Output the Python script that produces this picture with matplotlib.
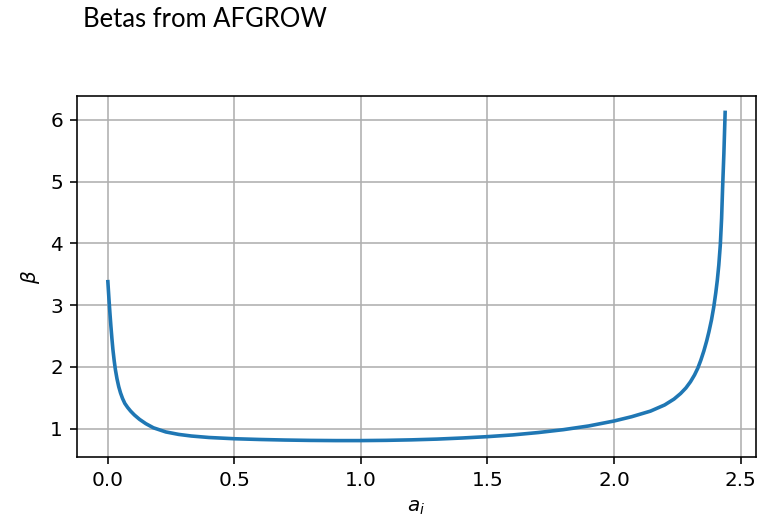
import matplotlib
matplotlib.use("Agg")
import matplotlib.pyplot as plt

# Crack length and geometry factor (beta) values
a_i = [0.0, 0.004, 0.008, 0.012, 0.016, 0.02, 0.025, 0.03, 0.036, 0.043,
       0.05, 0.058, 0.067, 0.078, 0.09, 0.105, 0.125, 0.15, 0.18, 0.229,
       0.28, 0.33, 0.4, 0.5, 0.6, 0.7, 0.8, 0.9, 1.0, 1.1,
       1.2, 1.3, 1.4, 1.5, 1.6, 1.7, 1.8, 1.9, 2.0, 2.07,
       2.144, 2.2, 2.237, 2.263, 2.284, 2.302, 2.318, 2.331, 2.343, 2.355,
       2.366, 2.375, 2.385, 2.394, 2.402, 2.408, 2.414, 2.42, 2.425, 2.429,
       2.434, 2.439]
beta = [3.38, 3.12, 2.88, 2.66, 2.46, 2.28, 2.10, 1.95, 1.81, 1.68,
        1.58, 1.49, 1.41, 1.345, 1.285, 1.222, 1.152, 1.082, 1.015, 0.948,
        0.908, 0.882, 0.858, 0.838, 0.826, 0.817, 0.811, 0.808, 0.808, 0.812,
        0.82, 0.832, 0.85, 0.872, 0.90, 0.938, 0.985, 1.045, 1.125, 1.195,
        1.285, 1.385, 1.48, 1.57, 1.66, 1.76, 1.87, 1.98, 2.11, 2.26,
        2.42, 2.57, 2.76, 2.97, 3.20, 3.40, 3.65, 3.98, 4.40, 4.90,
        5.45, 6.12]

title = "Betas from AFGROW"

fig = plt.figure(figsize=(767 / 144, 527 / 144), dpi=144)
ax = fig.add_axes([77 / 767, 1 - 457 / 527, (756 - 77) / 767, (457 - 96) / 527])
ax.plot(a_i, beta, color="C0", linewidth=1.8)
ax.grid(True)
ax.set_xlabel("$a_i$")
ax.set_ylabel(r"$\beta$")

fig.text(83 / 767, 1 - 27 / 527, title, fontsize=12.8, family=["Lato", "DejaVu Sans"],
         ha="left", va="baseline")

fig.savefig("out.png", dpi=144)
